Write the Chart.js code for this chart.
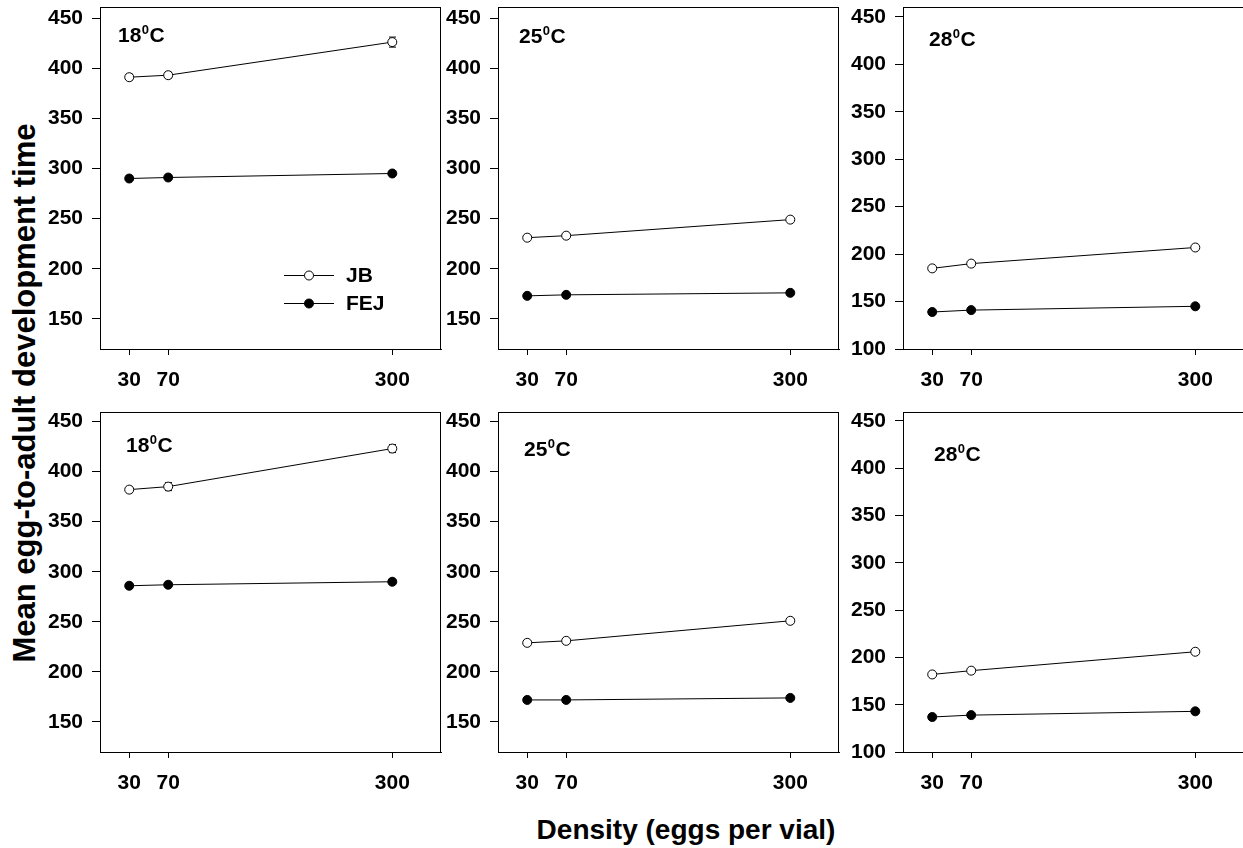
<!DOCTYPE html>
<html>
<head>
<meta charset="utf-8">
<title>Egg-to-adult development time by density</title>
<script src="https://cdn.jsdelivr.net/npm/chart.js@4.4.1/dist/chart.umd.min.js"></script>
<style>
  html, body { margin: 0; padding: 0; background: #fff; }
  body { width: 1243px; height: 848px; overflow: hidden; position: relative;
         font-family: "Liberation Sans", Arial, Helvetica, sans-serif; color: #000; }
  canvas { position: absolute; }
  .axis-title { position: absolute; font-weight: bold; white-space: nowrap; line-height: 1; }
  #xTitle { left: 686px; top: 816px; font-size: 28px; transform: translateX(-50%); }
  #yTitle { left: 24px; top: 393px; font-size: 31px; transform: translate(-50%, -50%) rotate(-90deg); }
</style>
</head>
<body>
<div id="xTitle" class="axis-title">Density (eggs per vial)</div>
<div id="yTitle" class="axis-title">Mean egg-to-adult development time</div>
<script>
// Larval density (eggs per vial) and axis tick values
const densities = [30, 70, 300];
const densityTicks = [30, 70, 300];
const yTicksFrom150 = [150, 200, 250, 300, 350, 400, 450];
const yTicksFrom100 = [100, 150, 200, 250, 300, 350, 400, 450];
const seriesNames = ['JB', 'FEJ'];
const temperatures = ['18', '25', '28'];

// Upper row: mean development time (h)
const jbUpper18  = [391, 393, 426];
const fejUpper18 = [290, 291, 295];
const jbUpper25  = [231, 233, 249];
const fejUpper25 = [173, 174, 176];
const jbUpper28  = [185, 190, 207];
const fejUpper28 = [139, 141, 145];

// Lower row: mean development time (h)
const jbLower18  = [382, 385, 423];
const fejLower18 = [286, 287, 290];
const jbLower25  = [229, 231, 251];
const fejLower25 = [172, 172, 174];
const jbLower28  = [182, 186, 206];
const fejLower28 = [137, 139, 143];

// Standard errors
const jbErrUpper18  = [3, 3, 5];
const fejErrUpper18 = [2, 2, 2];
const jbErrUpper25  = [2, 2, 2];
const fejErrUpper25 = [1, 1, 1];
const jbErrUpper28  = [2, 2, 2];
const fejErrUpper28 = [1, 1, 1];
const jbErrLower18  = [3, 4, 4];
const fejErrLower18 = [2, 2, 2];
const jbErrLower25  = [2, 2, 2];
const fejErrLower25 = [1, 1, 1];
const jbErrLower28  = [2, 2, 2];
const fejErrLower28 = [1, 1, 1];

const FONT = '"Liberation Sans", Arial, Helvetica, sans-serif';
Chart.defaults.font.family = FONT;
Chart.defaults.font.weight = 'bold';
Chart.defaults.color = '#000';

// Space reserved around each plot frame inside its canvas
const AXIS_W = 100, AXIS_H = 52, PAD = 7;

const panels = [
  { jb: jbUpper18, fej: fejUpper18, jbErr: jbErrUpper18, fejErr: fejErrUpper18, temp: temperatures[0],
    yTicks: yTicksFrom150, yMin: 120, yMax: 461, frame: [100, 7, 341, 342], titleAt: [18, 35], legend: true },
  { jb: jbUpper25, fej: fejUpper25, jbErr: jbErrUpper25, fejErr: fejErrUpper25, temp: temperatures[1],
    yTicks: yTicksFrom150, yMin: 120, yMax: 461, frame: [498, 7, 341, 342], titleAt: [21, 36] },
  { jb: jbUpper28, fej: fejUpper28, jbErr: jbErrUpper28, fejErr: fejErrUpper28, temp: temperatures[2],
    yTicks: yTicksFrom100, yMin: 100, yMax: 460.5, frame: [903, 7, 341, 342], titleAt: [26, 39] },
  { jb: jbLower18, fej: fejLower18, jbErr: jbErrLower18, fejErr: fejErrLower18, temp: temperatures[0],
    yTicks: yTicksFrom150, yMin: 120, yMax: 459.5, frame: [100, 412, 341, 340], titleAt: [26, 40] },
  { jb: jbLower25, fej: fejLower25, jbErr: jbErrLower25, fejErr: fejErrLower25, temp: temperatures[1],
    yTicks: yTicksFrom150, yMin: 120, yMax: 459.5, frame: [498, 412, 341, 340], titleAt: [26, 44] },
  { jb: jbLower28, fej: fejLower28, jbErr: jbErrLower28, fejErr: fejErrLower28, temp: temperatures[2],
    yTicks: yTicksFrom100, yMin: 100, yMax: 459.5, frame: [903, 412, 341, 340], titleAt: [31, 49] }
];

// Closed frame around the plotting area
const framePlugin = {
  id: 'frame',
  afterDraw(chart) {
    const { ctx, chartArea: a } = chart;
    ctx.save();
    ctx.strokeStyle = '#000';
    ctx.lineWidth = 1;
    ctx.strokeRect(Math.round(a.left) + 0.5, Math.round(a.top) + 0.5,
                   Math.round(a.right - a.left) - 1, Math.round(a.bottom - a.top));
    ctx.restore();
  }
};

// Vertical error bars with short caps, drawn beneath the markers
const errorBarPlugin = {
  id: 'errorBars',
  beforeDatasetsDraw(chart) {
    const { ctx } = chart;
    const yScale = chart.scales.y;
    ctx.save();
    ctx.strokeStyle = '#000';
    ctx.lineWidth = 1;
    chart.data.datasets.forEach((ds, i) => {
      const meta = chart.getDatasetMeta(i);
      meta.data.forEach((pt, j) => {
        const v = ds.data[j].y, e = ds.errors[j];
        const yTop = yScale.getPixelForValue(v + e);
        const yBot = yScale.getPixelForValue(v - e);
        const x = Math.round(pt.x) + 0.5;
        ctx.beginPath();
        ctx.moveTo(x, yTop); ctx.lineTo(x, yBot);
        ctx.moveTo(x - 3.5, yTop); ctx.lineTo(x + 3.5, yTop);
        ctx.moveTo(x - 3.5, yBot); ctx.lineTo(x + 3.5, yBot);
        ctx.stroke();
      });
    });
    ctx.restore();
  }
};

// Temperature label in the upper-left corner, e.g. 18⁰C
const tempLabelPlugin = {
  id: 'tempLabel',
  afterDraw(chart, args, opts) {
    const { ctx, chartArea: a } = chart;
    let x = a.left + opts.dx;
    const y = a.top + opts.dy;
    ctx.save();
    ctx.fillStyle = '#000';
    ctx.textBaseline = 'alphabetic';
    ctx.textAlign = 'left';
    ctx.font = 'bold 21px ' + FONT;
    ctx.fillText(opts.temp, x, y);
    x += ctx.measureText(opts.temp).width;
    ctx.font = 'bold 13px ' + FONT;
    ctx.fillText('0', x + 0.5, y - 8);
    x += ctx.measureText('0').width + 1;
    ctx.font = 'bold 21px ' + FONT;
    ctx.fillText('C', x, y);
    ctx.restore();
  }
};

// Series key placed inside the plotting area
const keyPlugin = {
  id: 'seriesKey',
  afterDraw(chart, args, opts) {
    if (!opts.show) return;
    const { ctx, chartArea: a } = chart;
    ctx.save();
    chart.data.datasets.forEach((ds, i) => {
      const y = a.top + 268.5 + i * 28;
      const x0 = a.left + 184, x1 = a.left + 234, xm = a.left + 209;
      ctx.strokeStyle = '#000';
      ctx.lineWidth = 1;
      ctx.beginPath(); ctx.moveTo(x0, y); ctx.lineTo(x1, y); ctx.stroke();
      ctx.beginPath();
      ctx.arc(xm, y, ds.pointRadius, 0, Math.PI * 2);
      ctx.fillStyle = ds.pointBackgroundColor;
      ctx.fill();
      ctx.stroke();
      ctx.fillStyle = '#000';
      ctx.font = 'bold 21px ' + FONT;
      ctx.textBaseline = 'middle';
      ctx.fillText(ds.label, a.left + 246, y + 1);
    });
    ctx.restore();
  }
};

function makeSeries(label, values, errors, fill) {
  return {
    label,
    data: densities.map((d, i) => ({ x: d, y: values[i] })),
    errors,
    borderColor: '#000',
    borderWidth: 1,
    pointRadius: 4.5,
    pointBorderWidth: 1,
    pointBorderColor: '#000',
    pointBackgroundColor: fill,
    fill: false,
    tension: 0
  };
}

panels.forEach(p => {
  const [fx, fy, fw, fh] = p.frame;
  const W = AXIS_W + fw + PAD, H = PAD + fh + AXIS_H;
  const canvas = document.createElement('canvas');
  canvas.width = W; canvas.height = H;
  canvas.style.left = (fx - AXIS_W) + 'px';
  canvas.style.top = (fy - PAD) + 'px';
  canvas.style.width = W + 'px';
  canvas.style.height = H + 'px';
  document.body.appendChild(canvas);

  new Chart(canvas, {
    type: 'line',
    data: {
      datasets: [
        makeSeries(seriesNames[0], p.jb, p.jbErr, '#fff'),
        makeSeries(seriesNames[1], p.fej, p.fejErr, '#000')
      ]
    },
    options: {
      responsive: false,
      animation: false,
      devicePixelRatio: 1,
      layout: { padding: { left: 0, top: PAD, right: PAD, bottom: 0 } },
      plugins: {
        legend: { display: false },
        tooltip: { enabled: false },
        tempLabel: { temp: p.temp, dx: p.titleAt[0], dy: p.titleAt[1] },
        seriesKey: { show: !!p.legend }
      },
      scales: {
        x: {
          type: 'linear', min: 0, max: 350,
          afterBuildTicks: s => { s.ticks = densityTicks.map(v => ({ value: v })); },
          afterFit: s => { s.height = AXIS_H; s.paddingLeft = 0; s.paddingRight = 0; },
          grid: { display: true, drawOnChartArea: false, drawTicks: true, tickLength: 6, color: '#000', tickWidth: 1 },
          border: { display: true, color: '#000', width: 1 },
          ticks: { font: { size: 21, weight: 'bold' }, color: '#000', padding: 13, maxRotation: 0, autoSkip: false }
        },
        y: {
          type: 'linear', min: p.yMin, max: p.yMax,
          afterBuildTicks: s => { s.ticks = p.yTicks.map(v => ({ value: v })); },
          afterFit: s => { s.width = AXIS_W; s.paddingTop = 0; s.paddingBottom = 0; },
          grid: { display: true, drawOnChartArea: false, drawTicks: true, tickLength: 8, color: '#000', tickWidth: 1 },
          border: { display: true, color: '#000', width: 1 },
          ticks: { font: { size: 21, weight: 'bold' }, color: '#000', padding: 9, autoSkip: false }
        }
      }
    },
    plugins: [errorBarPlugin, framePlugin, tempLabelPlugin, keyPlugin]
  });
});
</script>
</body>
</html>
